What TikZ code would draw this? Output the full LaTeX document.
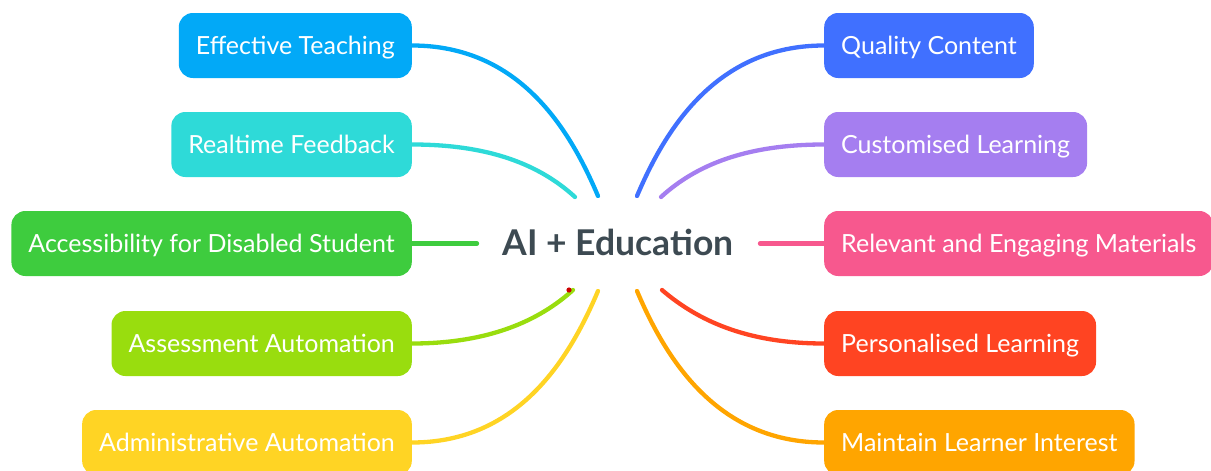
\documentclass[tikz,border=0pt]{standalone}
\usepackage{fontspec}
\setmainfont{Lato}
\definecolor{cTeach}{HTML}{02A9F7}
\definecolor{cFeed}{HTML}{2EDAD8}
\definecolor{cAccess}{HTML}{3ECC3E}
\definecolor{cAssess}{HTML}{99DD0E}
\definecolor{cAdmin}{HTML}{FFD424}
\definecolor{cQuality}{HTML}{4070FF}
\definecolor{cCustom}{HTML}{A57EF0}
\definecolor{cRelevant}{HTML}{F7588E}
\definecolor{cPersonal}{HTML}{FF4422}
\definecolor{cInterest}{HTML}{FFA500}
\definecolor{cCore}{HTML}{3D4A52}
\begin{document}
\begin{tikzpicture}[x=1pt,y=-1pt,
  topic/.style={rounded corners=14pt, minimum height=65pt, inner xsep=17pt,
    text height=18pt, text depth=0pt,
    text=white, font=\fontsize{25}{30}\selectfont, fill=#1},
  branch/.style={draw=#1, line width=4.3pt, line cap=round}]
\useasboundingbox (0,0) rectangle (1211,471);

% central topic
\node[font=\fontsize{35.5}{42}\selectfont\bfseries, text=cCore,
  text height=25pt, text depth=0pt] (core) at (618,243) {AI + Education};

% left branches
\node[topic=cTeach, anchor=east] (teach) at (412,45.5) {Effective Teaching};
\node[topic=cFeed, anchor=east] (feed) at (412,144.5) {Realtime Feedback};
\node[topic=cAccess, anchor=east] (access) at (412,243.5) {Accessibility for Disabled Student};
\node[topic=cAssess, anchor=east] (assess) at (412,343.5) {Assessment Automation};
\node[topic=cAdmin, anchor=east] (admin) at (412,442.5) {Administrative Automation};

% right branches
\node[topic=cQuality, anchor=west] (quality) at (824,45.5) {Quality Content};
\node[topic=cCustom, anchor=west] (custom) at (824,144.5) {Customised Learning};
\node[topic=cRelevant, anchor=west] (relevant) at (824,243.5) {Relevant and Engaging Materials};
\node[topic=cPersonal, anchor=west] (personal) at (824,343.5) {Personalised Learning};
\node[topic=cInterest, anchor=west] (interest) at (824,442.5) {Maintain Learner Interest};

% inner ends of the connectors around the central topic
\coordinate (teachEnd) at (598,196);
\coordinate (feedEnd) at (575,197);
\coordinate (accessEnd) at (477,243.5);
\coordinate (assessEnd) at (573,290);
\coordinate (adminEnd) at (598,291);
\coordinate (qualityEnd) at (637,196);
\coordinate (customEnd) at (661,197);
\coordinate (relevantEnd) at (760,243.5);
\coordinate (personalEnd) at (662,290);
\coordinate (interestEnd) at (637,291);

% connectors
\draw[branch=cTeach] (teach.east) .. controls +(108,0) and +(-28,-66) .. (teachEnd);
\draw[branch=cFeed] (feed.east) .. controls +(78,0) and +(-35,-32) .. (feedEnd);
\draw[branch=cAccess] (access.east) -- (accessEnd);
\draw[branch=cAssess] (assess.east) .. controls +(78,0) and +(-33,30) .. (assessEnd);
\draw[branch=cAdmin] (admin.east) .. controls +(108,0) and +(-28,66) .. (adminEnd);

\draw[branch=cQuality] (quality.west) .. controls +(-108,0) and +(28,-66) .. (qualityEnd);
\draw[branch=cCustom] (custom.west) .. controls +(-78,0) and +(35,-32) .. (customEnd);
\draw[branch=cRelevant] (relevant.west) -- (relevantEnd);
\draw[branch=cPersonal] (personal.west) .. controls +(-78,0) and +(35,30) .. (personalEnd);
\draw[branch=cInterest] (interest.west) .. controls +(-108,0) and +(28,66) .. (interestEnd);

% small marker on the assessment connector
\fill[red!80!black] (569,290) circle (2.6pt);
\end{tikzpicture}
\end{document}
